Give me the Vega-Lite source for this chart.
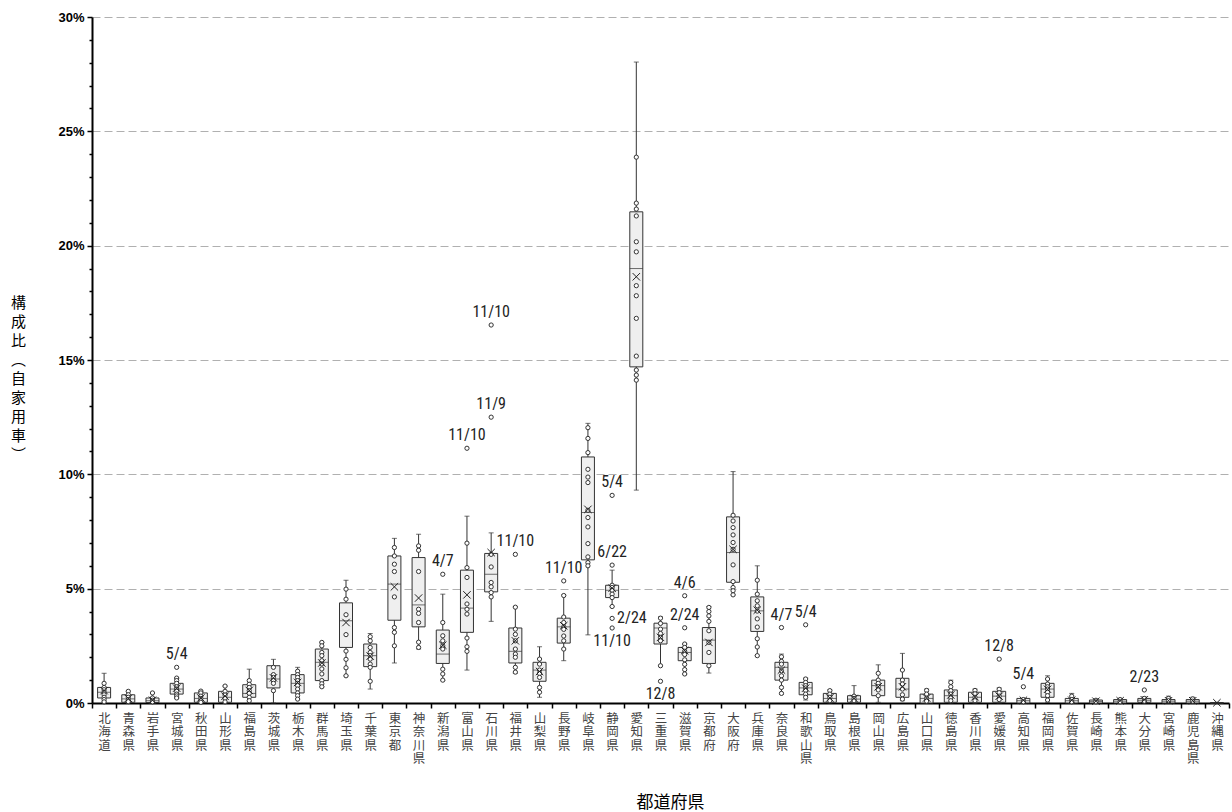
{
  "$schema": "https://vega.github.io/schema/vega-lite/v6.json",
  "width": 1137,
  "height": 686,
  "autosize": {"type": "none"},
  "padding": {"left": 92, "top": 17, "right": 3, "bottom": 109},
  "background": "white",
  "config": {
    "view": {"stroke": null},
    "axisY": {
      "grid": true,
      "gridColor": "#b0b0b0",
      "gridDash": [8, 4],
      "gridWidth": 1,
      "tickColor": "black",
      "tickWidth": 1.5,
      "domainColor": "black",
      "domainWidth": 2,
      "labelFont": "Liberation Sans",
      "labelFontWeight": "bold",
      "labelFontSize": 13,
      "labelColor": "black",
      "labelPadding": 3,
      "labelOverlap": false,
      "labelBound": false,
      "labelFlush": false,
      "titleAngle": 0,
      "titleX": -74,
      "titleY": 285,
      "titleAlign": "center",
      "titleBaseline": "middle",
      "titleFont": "Noto Sans CJK JP",
      "titleFontSize": 15,
      "titleFontWeight": "normal",
      "titleColor": "black",
      "titleLineHeight": 19
    }
  },
  "datasets": {
    "stats": [
      {"pref": "北海道", "lo": 0.05, "q1": 0.22, "med": 0.47, "q3": 0.68, "hi": 1.30, "mean": 0.54},
      {"pref": "青森県", "lo": 0.0, "q1": 0.03, "med": 0.18, "q3": 0.36, "hi": 0.51, "mean": 0.2},
      {"pref": "岩手県", "lo": 0.0, "q1": 0.02, "med": 0.1, "q3": 0.22, "hi": 0.44, "mean": 0.12},
      {"pref": "宮城県", "lo": 0.22, "q1": 0.39, "med": 0.61, "q3": 0.86, "hi": 1.09, "mean": 0.65},
      {"pref": "秋田県", "lo": 0.0, "q1": 0.03, "med": 0.2, "q3": 0.44, "hi": 0.52, "mean": 0.22},
      {"pref": "山形県", "lo": 0.0, "q1": 0.03, "med": 0.25, "q3": 0.51, "hi": 0.74, "mean": 0.3},
      {"pref": "福島県", "lo": 0.0, "q1": 0.25, "med": 0.42, "q3": 0.80, "hi": 1.48, "mean": 0.55},
      {"pref": "茨城県", "lo": 0.0, "q1": 0.66, "med": 1.05, "q3": 1.63, "hi": 1.91, "mean": 1.1},
      {"pref": "栃木県", "lo": 0.17, "q1": 0.44, "med": 0.86, "q3": 1.24, "hi": 1.56, "mean": 0.9},
      {"pref": "群馬県", "lo": 0.71, "q1": 0.98, "med": 1.78, "q3": 2.36, "hi": 2.65, "mean": 1.75},
      {"pref": "埼玉県", "lo": 1.19, "q1": 2.43, "med": 3.6, "q3": 4.38, "hi": 5.37, "mean": 3.52},
      {"pref": "千葉県", "lo": 0.61, "q1": 1.59, "med": 2.07, "q3": 2.58, "hi": 3.04, "mean": 2.05},
      {"pref": "東京都", "lo": 1.75, "q1": 3.62, "med": 5.2, "q3": 6.43, "hi": 7.2, "mean": 5.08},
      {"pref": "神奈川県", "lo": 2.36, "q1": 3.33, "med": 4.29, "q3": 6.36, "hi": 7.38, "mean": 4.59},
      {"pref": "新潟県", "lo": 0.98, "q1": 1.73, "med": 2.14, "q3": 3.19, "hi": 4.76, "mean": 2.53},
      {"pref": "富山県", "lo": 1.44, "q1": 3.09, "med": 4.15, "q3": 5.81, "hi": 8.17, "mean": 4.73},
      {"pref": "石川県", "lo": 3.57, "q1": 4.86, "med": 5.63, "q3": 6.54, "hi": 7.44, "mean": 6.58},
      {"pref": "福井県", "lo": 1.3, "q1": 1.75, "med": 2.26, "q3": 3.28, "hi": 4.21, "mean": 2.72},
      {"pref": "山梨県", "lo": 0.25, "q1": 0.95, "med": 1.44, "q3": 1.78, "hi": 2.46, "mean": 1.38},
      {"pref": "長野県", "lo": 1.85, "q1": 2.62, "med": 3.33, "q3": 3.71, "hi": 4.72, "mean": 3.38},
      {"pref": "岐阜県", "lo": 2.98, "q1": 6.26, "med": 8.33, "q3": 10.76, "hi": 12.23, "mean": 8.47},
      {"pref": "静岡県", "lo": 4.22, "q1": 4.61, "med": 4.93, "q3": 5.15, "hi": 5.81, "mean": 5.02},
      {"pref": "愛知県", "lo": 9.31, "q1": 14.7, "med": 19.0, "q3": 21.48, "hi": 28.03, "mean": 18.64},
      {"pref": "三重県", "lo": 1.63, "q1": 2.58, "med": 3.28, "q3": 3.49, "hi": 3.77, "mean": 2.87},
      {"pref": "滋賀県", "lo": 1.27, "q1": 1.85, "med": 2.21, "q3": 2.43, "hi": 2.58, "mean": 2.29},
      {"pref": "京都府", "lo": 1.31, "q1": 1.73, "med": 2.75, "q3": 3.30, "hi": 4.22, "mean": 2.65},
      {"pref": "大阪府", "lo": 4.73, "q1": 5.28, "med": 6.58, "q3": 8.14, "hi": 10.12, "mean": 6.72},
      {"pref": "兵庫県", "lo": 2.07, "q1": 3.13, "med": 4.03, "q3": 4.64, "hi": 6.0, "mean": 4.06},
      {"pref": "奈良県", "lo": 0.39, "q1": 1.0, "med": 1.56, "q3": 1.78, "hi": 2.14, "mean": 1.44},
      {"pref": "和歌山県", "lo": 0.13, "q1": 0.36, "med": 0.66, "q3": 0.90, "hi": 1.09, "mean": 0.65},
      {"pref": "鳥取県", "lo": 0.0, "q1": 0.03, "med": 0.2, "q3": 0.42, "hi": 0.57, "mean": 0.22},
      {"pref": "島根県", "lo": 0.0, "q1": 0.03, "med": 0.17, "q3": 0.32, "hi": 0.76, "mean": 0.2},
      {"pref": "岡山県", "lo": 0.03, "q1": 0.32, "med": 0.76, "q3": 1.0, "hi": 1.67, "mean": 0.71},
      {"pref": "広島県", "lo": 0.1, "q1": 0.25, "med": 0.61, "q3": 1.08, "hi": 2.17, "mean": 0.71},
      {"pref": "山口県", "lo": 0.0, "q1": 0.0, "med": 0.2, "q3": 0.39, "hi": 0.61, "mean": 0.22},
      {"pref": "徳島県", "lo": 0.0, "q1": 0.03, "med": 0.32, "q3": 0.57, "hi": 1.0, "mean": 0.35},
      {"pref": "香川県", "lo": 0.0, "q1": 0.03, "med": 0.25, "q3": 0.47, "hi": 0.61, "mean": 0.27},
      {"pref": "愛媛県", "lo": 0.0, "q1": 0.03, "med": 0.3, "q3": 0.51, "hi": 0.66, "mean": 0.3},
      {"pref": "高知県", "lo": 0.0, "q1": 0.0, "med": 0.1, "q3": 0.2, "hi": 0.2, "mean": 0.12},
      {"pref": "福岡県", "lo": 0.03, "q1": 0.25, "med": 0.61, "q3": 0.86, "hi": 1.19, "mean": 0.6},
      {"pref": "佐賀県", "lo": 0.0, "q1": 0.0, "med": 0.1, "q3": 0.2, "hi": 0.42, "mean": 0.12},
      {"pref": "長崎県", "lo": 0.0, "q1": 0.0, "med": 0.07, "q3": 0.13, "hi": 0.17, "mean": 0.08},
      {"pref": "熊本県", "lo": 0.0, "q1": 0.0, "med": 0.08, "q3": 0.15, "hi": 0.2, "mean": 0.1},
      {"pref": "大分県", "lo": 0.0, "q1": 0.03, "med": 0.12, "q3": 0.2, "hi": 0.27, "mean": 0.14},
      {"pref": "宮崎県", "lo": 0.0, "q1": 0.0, "med": 0.08, "q3": 0.15, "hi": 0.3, "mean": 0.1},
      {"pref": "鹿児島県", "lo": 0.0, "q1": 0.0, "med": 0.08, "q3": 0.15, "hi": 0.25, "mean": 0.1},
      {"pref": "沖縄県", "lo": 0.0, "q1": 0.0, "med": 0.0, "q3": 0.02, "hi": 0.03, "mean": 0.01}
    ],
    "pts": [
      {"pref": "北海道", "v": 0.86}, {"pref": "北海道", "v": 0.68}, {"pref": "北海道", "v": 0.58}, {"pref": "北海道", "v": 0.47}, {"pref": "北海道", "v": 0.36}, {"pref": "北海道", "v": 0.25}, {"pref": "北海道", "v": 0.15}, {"pref": "北海道", "v": 0.05},
      {"pref": "青森県", "v": 0.51}, {"pref": "青森県", "v": 0.36}, {"pref": "青森県", "v": 0.25}, {"pref": "青森県", "v": 0.15}, {"pref": "青森県", "v": 0.06},
      {"pref": "岩手県", "v": 0.44}, {"pref": "岩手県", "v": 0.22}, {"pref": "岩手県", "v": 0.12}, {"pref": "岩手県", "v": 0.05},
      {"pref": "宮城県", "v": 1.56}, {"pref": "宮城県", "v": 1.09}, {"pref": "宮城県", "v": 0.98}, {"pref": "宮城県", "v": 0.86}, {"pref": "宮城県", "v": 0.71}, {"pref": "宮城県", "v": 0.61}, {"pref": "宮城県", "v": 0.51}, {"pref": "宮城県", "v": 0.39}, {"pref": "宮城県", "v": 0.31}, {"pref": "宮城県", "v": 0.22},
      {"pref": "秋田県", "v": 0.52}, {"pref": "秋田県", "v": 0.44}, {"pref": "秋田県", "v": 0.3}, {"pref": "秋田県", "v": 0.2}, {"pref": "秋田県", "v": 0.1}, {"pref": "秋田県", "v": 0.03},
      {"pref": "山形県", "v": 0.74}, {"pref": "山形県", "v": 0.51}, {"pref": "山形県", "v": 0.35}, {"pref": "山形県", "v": 0.2}, {"pref": "山形県", "v": 0.05},
      {"pref": "福島県", "v": 0.98}, {"pref": "福島県", "v": 0.82}, {"pref": "福島県", "v": 0.68}, {"pref": "福島県", "v": 0.54}, {"pref": "福島県", "v": 0.42}, {"pref": "福島県", "v": 0.25}, {"pref": "福島県", "v": 0.1},
      {"pref": "茨城県", "v": 1.56}, {"pref": "茨城県", "v": 1.24}, {"pref": "茨城県", "v": 1.12}, {"pref": "茨城県", "v": 0.98}, {"pref": "茨城県", "v": 0.86}, {"pref": "茨城県", "v": 0.54},
      {"pref": "栃木県", "v": 1.39}, {"pref": "栃木県", "v": 1.24}, {"pref": "栃木県", "v": 1.12}, {"pref": "栃木県", "v": 0.98}, {"pref": "栃木県", "v": 0.86}, {"pref": "栃木県", "v": 0.76}, {"pref": "栃木県", "v": 0.61}, {"pref": "栃木県", "v": 0.44}, {"pref": "栃木県", "v": 0.32}, {"pref": "栃木県", "v": 0.17},
      {"pref": "群馬県", "v": 2.65}, {"pref": "群馬県", "v": 2.5}, {"pref": "群馬県", "v": 2.21}, {"pref": "群馬県", "v": 2.07}, {"pref": "群馬県", "v": 1.85}, {"pref": "群馬県", "v": 1.71}, {"pref": "群馬県", "v": 1.49}, {"pref": "群馬県", "v": 1.27}, {"pref": "群馬県", "v": 0.98}, {"pref": "群馬県", "v": 0.84}, {"pref": "群馬県", "v": 0.71},
      {"pref": "埼玉県", "v": 4.98}, {"pref": "埼玉県", "v": 4.54}, {"pref": "埼玉県", "v": 3.86}, {"pref": "埼玉県", "v": 2.99}, {"pref": "埼玉県", "v": 2.27}, {"pref": "埼玉県", "v": 1.91}, {"pref": "埼玉県", "v": 1.54}, {"pref": "埼玉県", "v": 1.19},
      {"pref": "千葉県", "v": 2.9}, {"pref": "千葉県", "v": 2.72}, {"pref": "千葉県", "v": 2.43}, {"pref": "千葉県", "v": 2.21}, {"pref": "千葉県", "v": 2.07}, {"pref": "千葉県", "v": 1.92}, {"pref": "千葉県", "v": 1.7}, {"pref": "千葉県", "v": 1.56}, {"pref": "千葉県", "v": 0.95},
      {"pref": "東京都", "v": 6.8}, {"pref": "東京都", "v": 6.43}, {"pref": "東京都", "v": 6.07}, {"pref": "東京都", "v": 5.75}, {"pref": "東京都", "v": 4.64}, {"pref": "東京都", "v": 3.3}, {"pref": "東京都", "v": 3.09}, {"pref": "東京都", "v": 2.5},
      {"pref": "神奈川県", "v": 6.87}, {"pref": "神奈川県", "v": 6.68}, {"pref": "神奈川県", "v": 5.75}, {"pref": "神奈川県", "v": 4.1}, {"pref": "神奈川県", "v": 3.92}, {"pref": "神奈川県", "v": 3.52}, {"pref": "神奈川県", "v": 2.66}, {"pref": "神奈川県", "v": 2.43},
      {"pref": "新潟県", "v": 5.63}, {"pref": "新潟県", "v": 3.52}, {"pref": "新潟県", "v": 2.94}, {"pref": "新潟県", "v": 2.72}, {"pref": "新潟県", "v": 2.5}, {"pref": "新潟県", "v": 2.36}, {"pref": "新潟県", "v": 1.48}, {"pref": "新潟県", "v": 1.27}, {"pref": "新潟県", "v": 1.0},
      {"pref": "富山県", "v": 11.14}, {"pref": "富山県", "v": 6.99}, {"pref": "富山県", "v": 5.92}, {"pref": "富山県", "v": 5.49}, {"pref": "富山県", "v": 4.33}, {"pref": "富山県", "v": 4.1}, {"pref": "富山県", "v": 3.89}, {"pref": "富山県", "v": 2.84}, {"pref": "富山県", "v": 2.46}, {"pref": "富山県", "v": 2.26},
      {"pref": "石川県", "v": 16.53}, {"pref": "石川県", "v": 12.5}, {"pref": "石川県", "v": 6.5}, {"pref": "石川県", "v": 5.95}, {"pref": "石川県", "v": 5.27}, {"pref": "石川県", "v": 5.08}, {"pref": "石川県", "v": 4.83}, {"pref": "石川県", "v": 4.64},
      {"pref": "福井県", "v": 6.5}, {"pref": "福井県", "v": 4.19}, {"pref": "福井県", "v": 3.23}, {"pref": "福井県", "v": 3.0}, {"pref": "福井県", "v": 2.72}, {"pref": "福井県", "v": 2.36}, {"pref": "福井県", "v": 2.14}, {"pref": "福井県", "v": 2.0}, {"pref": "福井県", "v": 1.56}, {"pref": "福井県", "v": 1.35},
      {"pref": "山梨県", "v": 1.92}, {"pref": "山梨県", "v": 1.7}, {"pref": "山梨県", "v": 1.44}, {"pref": "山梨県", "v": 1.29}, {"pref": "山梨県", "v": 1.12}, {"pref": "山梨県", "v": 0.68}, {"pref": "山梨県", "v": 0.47},
      {"pref": "長野県", "v": 5.34}, {"pref": "長野県", "v": 4.7}, {"pref": "長野県", "v": 3.76}, {"pref": "長野県", "v": 3.52}, {"pref": "長野県", "v": 3.33}, {"pref": "長野県", "v": 3.22}, {"pref": "長野県", "v": 2.93}, {"pref": "長野県", "v": 2.72}, {"pref": "長野県", "v": 2.36},
      {"pref": "岐阜県", "v": 12.04}, {"pref": "岐阜県", "v": 11.57}, {"pref": "岐阜県", "v": 10.95}, {"pref": "岐阜県", "v": 10.22}, {"pref": "岐阜県", "v": 9.88}, {"pref": "岐阜県", "v": 9.64}, {"pref": "岐阜県", "v": 8.43}, {"pref": "岐阜県", "v": 8.11}, {"pref": "岐阜県", "v": 7.7}, {"pref": "岐阜県", "v": 6.97}, {"pref": "岐阜県", "v": 6.39}, {"pref": "岐阜県", "v": 6.14}, {"pref": "岐阜県", "v": 6.0},
      {"pref": "静岡県", "v": 9.08}, {"pref": "静岡県", "v": 6.03}, {"pref": "静岡県", "v": 5.15}, {"pref": "静岡県", "v": 5.05}, {"pref": "静岡県", "v": 4.93}, {"pref": "静岡県", "v": 4.76}, {"pref": "静岡県", "v": 4.61}, {"pref": "静岡県", "v": 4.22}, {"pref": "静岡県", "v": 3.70}, {"pref": "静岡県", "v": 3.28},
      {"pref": "愛知県", "v": 23.87}, {"pref": "愛知県", "v": 21.86}, {"pref": "愛知県", "v": 21.6}, {"pref": "愛知県", "v": 21.3}, {"pref": "愛知県", "v": 20.17}, {"pref": "愛知県", "v": 19.73}, {"pref": "愛知県", "v": 18.25}, {"pref": "愛知県", "v": 17.81}, {"pref": "愛知県", "v": 16.82}, {"pref": "愛知県", "v": 15.17}, {"pref": "愛知県", "v": 14.56}, {"pref": "愛知県", "v": 14.34}, {"pref": "愛知県", "v": 14.12},
      {"pref": "三重県", "v": 0.95}, {"pref": "三重県", "v": 3.71}, {"pref": "三重県", "v": 3.48}, {"pref": "三重県", "v": 3.23}, {"pref": "三重県", "v": 3.04}, {"pref": "三重県", "v": 2.87}, {"pref": "三重県", "v": 2.72}, {"pref": "三重県", "v": 1.63},
      {"pref": "滋賀県", "v": 4.69}, {"pref": "滋賀県", "v": 3.29}, {"pref": "滋賀県", "v": 2.58}, {"pref": "滋賀県", "v": 2.43}, {"pref": "滋賀県", "v": 2.26}, {"pref": "滋賀県", "v": 2.12}, {"pref": "滋賀県", "v": 1.89}, {"pref": "滋賀県", "v": 1.69}, {"pref": "滋賀県", "v": 1.46}, {"pref": "滋賀県", "v": 1.27},
      {"pref": "京都府", "v": 4.18}, {"pref": "京都府", "v": 4.0}, {"pref": "京都府", "v": 3.81}, {"pref": "京都府", "v": 3.57}, {"pref": "京都府", "v": 3.16}, {"pref": "京都府", "v": 2.65}, {"pref": "京都府", "v": 2.21}, {"pref": "京都府", "v": 1.63},
      {"pref": "大阪府", "v": 8.21}, {"pref": "大阪府", "v": 7.96}, {"pref": "大阪府", "v": 7.67}, {"pref": "大阪府", "v": 7.35}, {"pref": "大阪府", "v": 7.02}, {"pref": "大阪府", "v": 6.72}, {"pref": "大阪府", "v": 6.04}, {"pref": "大阪府", "v": 5.31}, {"pref": "大阪府", "v": 5.05}, {"pref": "大阪府", "v": 4.91}, {"pref": "大阪府", "v": 4.73},
      {"pref": "兵庫県", "v": 5.37}, {"pref": "兵庫県", "v": 4.76}, {"pref": "兵庫県", "v": 4.47}, {"pref": "兵庫県", "v": 4.25}, {"pref": "兵庫県", "v": 4.02}, {"pref": "兵庫県", "v": 3.68}, {"pref": "兵庫県", "v": 3.32}, {"pref": "兵庫県", "v": 2.81}, {"pref": "兵庫県", "v": 2.45}, {"pref": "兵庫県", "v": 2.07},
      {"pref": "奈良県", "v": 3.3}, {"pref": "奈良県", "v": 2.02}, {"pref": "奈良県", "v": 1.82}, {"pref": "奈良県", "v": 1.7}, {"pref": "奈良県", "v": 1.41}, {"pref": "奈良県", "v": 1.19}, {"pref": "奈良県", "v": 1.0}, {"pref": "奈良県", "v": 0.68}, {"pref": "奈良県", "v": 0.42},
      {"pref": "和歌山県", "v": 3.42}, {"pref": "和歌山県", "v": 1.05}, {"pref": "和歌山県", "v": 0.9}, {"pref": "和歌山県", "v": 0.76}, {"pref": "和歌山県", "v": 0.66}, {"pref": "和歌山県", "v": 0.55}, {"pref": "和歌山県", "v": 0.39}, {"pref": "和歌山県", "v": 0.25},
      {"pref": "鳥取県", "v": 0.54}, {"pref": "鳥取県", "v": 0.39}, {"pref": "鳥取県", "v": 0.25}, {"pref": "鳥取県", "v": 0.1},
      {"pref": "島根県", "v": 0.3}, {"pref": "島根県", "v": 0.2}, {"pref": "島根県", "v": 0.1},
      {"pref": "岡山県", "v": 1.3}, {"pref": "岡山県", "v": 1.0}, {"pref": "岡山県", "v": 0.86}, {"pref": "岡山県", "v": 0.71}, {"pref": "岡山県", "v": 0.57}, {"pref": "岡山県", "v": 0.32},
      {"pref": "広島県", "v": 1.44}, {"pref": "広島県", "v": 1.0}, {"pref": "広島県", "v": 0.83}, {"pref": "広島県", "v": 0.61}, {"pref": "広島県", "v": 0.36}, {"pref": "広島県", "v": 0.17},
      {"pref": "山口県", "v": 0.55}, {"pref": "山口県", "v": 0.39}, {"pref": "山口県", "v": 0.2}, {"pref": "山口県", "v": 0.08},
      {"pref": "徳島県", "v": 0.9}, {"pref": "徳島県", "v": 0.71}, {"pref": "徳島県", "v": 0.54}, {"pref": "徳島県", "v": 0.39}, {"pref": "徳島県", "v": 0.22}, {"pref": "徳島県", "v": 0.1},
      {"pref": "香川県", "v": 0.55}, {"pref": "香川県", "v": 0.4}, {"pref": "香川県", "v": 0.25}, {"pref": "香川県", "v": 0.1},
      {"pref": "愛媛県", "v": 1.92}, {"pref": "愛媛県", "v": 0.6}, {"pref": "愛媛県", "v": 0.45}, {"pref": "愛媛県", "v": 0.3}, {"pref": "愛媛県", "v": 0.15},
      {"pref": "高知県", "v": 0.71}, {"pref": "高知県", "v": 0.15}, {"pref": "高知県", "v": 0.05},
      {"pref": "福岡県", "v": 1.05}, {"pref": "福岡県", "v": 0.83}, {"pref": "福岡県", "v": 0.71}, {"pref": "福岡県", "v": 0.61}, {"pref": "福岡県", "v": 0.47}, {"pref": "福岡県", "v": 0.32}, {"pref": "福岡県", "v": 0.13},
      {"pref": "佐賀県", "v": 0.3}, {"pref": "佐賀県", "v": 0.15}, {"pref": "佐賀県", "v": 0.05},
      {"pref": "長崎県", "v": 0.12}, {"pref": "長崎県", "v": 0.05},
      {"pref": "熊本県", "v": 0.15}, {"pref": "熊本県", "v": 0.05},
      {"pref": "大分県", "v": 0.57}, {"pref": "大分県", "v": 0.2}, {"pref": "大分県", "v": 0.08},
      {"pref": "宮崎県", "v": 0.2}, {"pref": "宮崎県", "v": 0.1},
      {"pref": "鹿児島県", "v": 0.18}, {"pref": "鹿児島県", "v": 0.08}
    ],
    "lbl": [
      {"pref": "宮城県", "v": 1.56, "label": "5/4", "pos": "above"},
      {"pref": "新潟県", "v": 5.63, "label": "4/7", "pos": "above"},
      {"pref": "富山県", "v": 11.14, "label": "11/10", "pos": "above"},
      {"pref": "石川県", "v": 16.53, "label": "11/10", "pos": "above"},
      {"pref": "石川県", "v": 12.5, "label": "11/9", "pos": "above"},
      {"pref": "福井県", "v": 6.5, "label": "11/10", "pos": "above"},
      {"pref": "長野県", "v": 5.34, "label": "11/10", "pos": "above"},
      {"pref": "静岡県", "v": 9.08, "label": "5/4", "pos": "above"},
      {"pref": "静岡県", "v": 6.03, "label": "6/22", "pos": "above"},
      {"pref": "静岡県", "v": 3.70, "label": "2/24", "pos": "right"},
      {"pref": "静岡県", "v": 3.28, "label": "11/10", "pos": "below"},
      {"pref": "三重県", "v": 0.95, "label": "12/8", "pos": "below"},
      {"pref": "滋賀県", "v": 4.69, "label": "4/6", "pos": "above"},
      {"pref": "滋賀県", "v": 3.29, "label": "2/24", "pos": "above"},
      {"pref": "奈良県", "v": 3.3, "label": "4/7", "pos": "above"},
      {"pref": "和歌山県", "v": 3.42, "label": "5/4", "pos": "above"},
      {"pref": "愛媛県", "v": 1.92, "label": "12/8", "pos": "above"},
      {"pref": "高知県", "v": 0.71, "label": "5/4", "pos": "above"},
      {"pref": "大分県", "v": 0.57, "label": "2/23", "pos": "above"}
    ]
  },
  "encoding": {
    "x": {
      "field": "pref",
      "type": "nominal",
      "sort": null,
      "scale": {
        "domain": ["北海道","青森県","岩手県","宮城県","秋田県","山形県","福島県","茨城県","栃木県","群馬県","埼玉県","千葉県","東京都","神奈川県","新潟県","富山県","石川県","福井県","山梨県","長野県","岐阜県","静岡県","愛知県","三重県","滋賀県","京都府","大阪府","兵庫県","奈良県","和歌山県","鳥取県","島根県","岡山県","広島県","山口県","徳島県","香川県","愛媛県","高知県","福岡県","佐賀県","長崎県","熊本県","大分県","宮崎県","鹿児島県","沖縄県"],
        "paddingInner": 0,
        "paddingOuter": 0
      },
      "axis": {
        "title": "都道府県",
        "tickBand": "extent",
        "labelAngle": 0,
        "labelExpr": "split(datum.label, '')",
        "labelAlign": "center",
        "labelBaseline": "top",
        "labelLineHeight": 13.5,
        "labelFont": "Noto Sans CJK JP",
        "labelFontSize": 12.5,
        "labelColor": "#444444",
        "labelPadding": 4,
        "labelOverlap": false,
        "labelBound": false,
        "tickSize": 5,
        "tickColor": "black",
        "tickWidth": 1.5,
        "domainColor": "black",
        "domainWidth": 2,
        "grid": false,
        "titleFont": "Noto Sans CJK JP",
        "titleFontSize": 17,
        "titleFontWeight": "normal",
        "titleColor": "black",
        "titleX": 578,
        "titleY": 99,
        "titleAlign": "center",
        "titleBaseline": "middle"
      }
    }
  },
  "layer": [
    {
      "data": {"name": "stats"},
      "mark": {"type": "rule", "color": "#333333", "strokeWidth": 1},
      "encoding": {
        "y": {
          "field": "lo",
          "type": "quantitative",
          "scale": {"domain": [0, 30], "nice": false},
          "axis": {"values": [0,1,2,3,4,5,6,7,8,9,10,11,12,13,14,15,16,17,18,19,20,21,22,23,24,25,26,27,28,29,30], "labelExpr": "datum.value % 5 === 0 ? datum.value + '%' : ''", "gridOpacity": {"condition": {"test": "datum.value % 5 === 0 && datum.value > 0", "value": 1}, "value": 0}, "tickSize": {"condition": {"test": "datum.value % 5 === 0", "value": 5}, "value": 3}, "title": ["構", "成", "比", "︵", "自", "家", "用", "車", "︶"]}
        },
        "y2": {"field": "hi"}
      }
    },
    {
      "data": {"name": "stats"},
      "mark": {"type": "tick", "color": "#333333", "size": 5, "thickness": 1},
      "encoding": {"y": {"field": "hi", "type": "quantitative", "axis": {"values": [0,1,2,3,4,5,6,7,8,9,10,11,12,13,14,15,16,17,18,19,20,21,22,23,24,25,26,27,28,29,30], "labelExpr": "datum.value % 5 === 0 ? datum.value + '%' : ''", "gridOpacity": {"condition": {"test": "datum.value % 5 === 0 && datum.value > 0", "value": 1}, "value": 0}, "tickSize": {"condition": {"test": "datum.value % 5 === 0", "value": 5}, "value": 3}, "title": ["構", "成", "比", "︵", "自", "家", "用", "車", "︶"]}}}
    },
    {
      "data": {"name": "stats"},
      "mark": {"type": "tick", "color": "#333333", "size": 5, "thickness": 1},
      "encoding": {"y": {"field": "lo", "type": "quantitative", "axis": {"values": [0,1,2,3,4,5,6,7,8,9,10,11,12,13,14,15,16,17,18,19,20,21,22,23,24,25,26,27,28,29,30], "labelExpr": "datum.value % 5 === 0 ? datum.value + '%' : ''", "gridOpacity": {"condition": {"test": "datum.value % 5 === 0 && datum.value > 0", "value": 1}, "value": 0}, "tickSize": {"condition": {"test": "datum.value % 5 === 0", "value": 5}, "value": 3}, "title": ["構", "成", "比", "︵", "自", "家", "用", "車", "︶"]}}}
    },
    {
      "data": {"name": "stats"},
      "mark": {"type": "bar", "size": 13, "fill": "#efefef", "stroke": "#333333", "strokeWidth": 1},
      "encoding": {
        "y": {"field": "q1", "type": "quantitative", "axis": {"values": [0,1,2,3,4,5,6,7,8,9,10,11,12,13,14,15,16,17,18,19,20,21,22,23,24,25,26,27,28,29,30], "labelExpr": "datum.value % 5 === 0 ? datum.value + '%' : ''", "gridOpacity": {"condition": {"test": "datum.value % 5 === 0 && datum.value > 0", "value": 1}, "value": 0}, "tickSize": {"condition": {"test": "datum.value % 5 === 0", "value": 5}, "value": 3}, "title": ["構", "成", "比", "︵", "自", "家", "用", "車", "︶"]}},
        "y2": {"field": "q3"}
      }
    },
    {
      "data": {"name": "stats"},
      "mark": {"type": "tick", "color": "#333333", "size": 13, "thickness": 1},
      "encoding": {"y": {"field": "med", "type": "quantitative", "axis": {"values": [0,1,2,3,4,5,6,7,8,9,10,11,12,13,14,15,16,17,18,19,20,21,22,23,24,25,26,27,28,29,30], "labelExpr": "datum.value % 5 === 0 ? datum.value + '%' : ''", "gridOpacity": {"condition": {"test": "datum.value % 5 === 0 && datum.value > 0", "value": 1}, "value": 0}, "tickSize": {"condition": {"test": "datum.value % 5 === 0", "value": 5}, "value": 3}, "title": ["構", "成", "比", "︵", "自", "家", "用", "車", "︶"]}}}
    },
    {
      "data": {"name": "pts"},
      "mark": {"type": "point", "shape": "circle", "size": 18, "filled": false, "fill": "white", "fillOpacity": 1, "stroke": "#333333", "strokeWidth": 1, "opacity": 1},
      "encoding": {"y": {"field": "v", "type": "quantitative", "axis": {"values": [0,1,2,3,4,5,6,7,8,9,10,11,12,13,14,15,16,17,18,19,20,21,22,23,24,25,26,27,28,29,30], "labelExpr": "datum.value % 5 === 0 ? datum.value + '%' : ''", "gridOpacity": {"condition": {"test": "datum.value % 5 === 0 && datum.value > 0", "value": 1}, "value": 0}, "tickSize": {"condition": {"test": "datum.value % 5 === 0", "value": 5}, "value": 3}, "title": ["構", "成", "比", "︵", "自", "家", "用", "車", "︶"]}}}
    },
    {
      "data": {"name": "stats"},
      "mark": {"type": "point", "shape": "M-1,-1L1,1M-1,1L1,-1", "size": 55, "filled": false, "stroke": "#222222", "strokeWidth": 1, "opacity": 1},
      "encoding": {"y": {"field": "mean", "type": "quantitative", "axis": {"values": [0,1,2,3,4,5,6,7,8,9,10,11,12,13,14,15,16,17,18,19,20,21,22,23,24,25,26,27,28,29,30], "labelExpr": "datum.value % 5 === 0 ? datum.value + '%' : ''", "gridOpacity": {"condition": {"test": "datum.value % 5 === 0 && datum.value > 0", "value": 1}, "value": 0}, "tickSize": {"condition": {"test": "datum.value % 5 === 0", "value": 5}, "value": 3}, "title": ["構", "成", "比", "︵", "自", "家", "用", "車", "︶"]}}}
    },
    {
      "data": {"name": "lbl"},
      "transform": [{"filter": "datum.pos === 'above'"}],
      "mark": {"type": "text", "font": "Liberation Sans Narrow, Roboto Condensed, Liberation Sans", "fontSize": 16, "color": "#222222", "align": "center", "baseline": "alphabetic", "dy": -8},
      "encoding": {"y": {"field": "v", "type": "quantitative", "axis": {"values": [0,1,2,3,4,5,6,7,8,9,10,11,12,13,14,15,16,17,18,19,20,21,22,23,24,25,26,27,28,29,30], "labelExpr": "datum.value % 5 === 0 ? datum.value + '%' : ''", "gridOpacity": {"condition": {"test": "datum.value % 5 === 0 && datum.value > 0", "value": 1}, "value": 0}, "tickSize": {"condition": {"test": "datum.value % 5 === 0", "value": 5}, "value": 3}, "title": ["構", "成", "比", "︵", "自", "家", "用", "車", "︶"]}}, "text": {"field": "label"}}
    },
    {
      "data": {"name": "lbl"},
      "transform": [{"filter": "datum.pos === 'right'"}],
      "mark": {"type": "text", "font": "Liberation Sans Narrow, Roboto Condensed, Liberation Sans", "fontSize": 16, "color": "#222222", "align": "left", "baseline": "middle", "dx": 5},
      "encoding": {"y": {"field": "v", "type": "quantitative", "axis": {"values": [0,1,2,3,4,5,6,7,8,9,10,11,12,13,14,15,16,17,18,19,20,21,22,23,24,25,26,27,28,29,30], "labelExpr": "datum.value % 5 === 0 ? datum.value + '%' : ''", "gridOpacity": {"condition": {"test": "datum.value % 5 === 0 && datum.value > 0", "value": 1}, "value": 0}, "tickSize": {"condition": {"test": "datum.value % 5 === 0", "value": 5}, "value": 3}, "title": ["構", "成", "比", "︵", "自", "家", "用", "車", "︶"]}}, "text": {"field": "label"}}
    },
    {
      "data": {"name": "lbl"},
      "transform": [{"filter": "datum.pos === 'below'"}],
      "mark": {"type": "text", "font": "Liberation Sans Narrow, Roboto Condensed, Liberation Sans", "fontSize": 16, "color": "#222222", "align": "center", "baseline": "top", "dy": 5},
      "encoding": {"y": {"field": "v", "type": "quantitative", "axis": {"values": [0,1,2,3,4,5,6,7,8,9,10,11,12,13,14,15,16,17,18,19,20,21,22,23,24,25,26,27,28,29,30], "labelExpr": "datum.value % 5 === 0 ? datum.value + '%' : ''", "gridOpacity": {"condition": {"test": "datum.value % 5 === 0 && datum.value > 0", "value": 1}, "value": 0}, "tickSize": {"condition": {"test": "datum.value % 5 === 0", "value": 5}, "value": 3}, "title": ["構", "成", "比", "︵", "自", "家", "用", "車", "︶"]}}, "text": {"field": "label"}}
    }
  ]
}
